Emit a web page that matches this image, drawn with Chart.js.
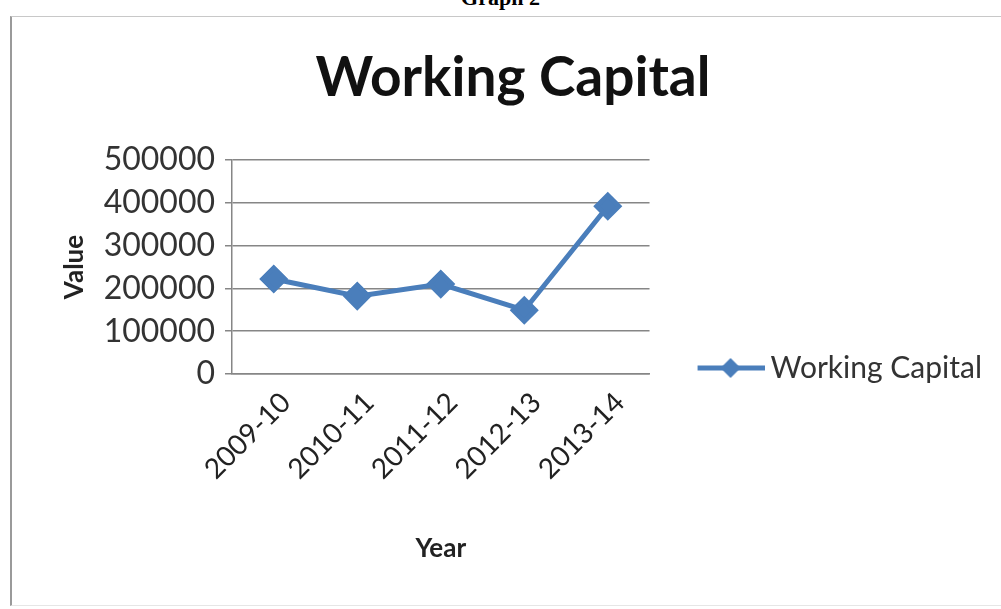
<!DOCTYPE html>
<html>
<head>
<meta charset="utf-8">
<script src="https://cdn.jsdelivr.net/npm/chart.js@4.4.1/dist/chart.umd.min.js"></script>
<style>
  html, body { margin: 0; padding: 0; background: #fff; }
  body { width: 1001px; height: 609px; position: relative; overflow: hidden; }
  #caption { position: absolute; left: 0; width: 1001px; top: -13px; text-align: center;
             font: bold 22px "Liberation Serif", serif; line-height: 22px; color: #000; }
  #frame { position: absolute; left: 10px; top: 16px; width: 1000px; height: 588px;
           border-left: 2px solid #9a9a9a; border-top: 1px solid #c8c8c8; border-bottom: 1px solid #e6e6e6; }
  #wrap { position: absolute; left: 0; top: 0; width: 1001px; height: 609px; }
</style>
</head>
<body>
<div id="caption">Graph 2</div>
<div id="frame"></div>
<div id="wrap"><canvas id="wc"></canvas></div>
<script>
const years = ['2009-10', '2010-11', '2011-12', '2012-13', '2013-14'];
const workingCapital = [222000, 182000, 210000, 149000, 392000];
const yTicks = [0, 100000, 200000, 300000, 400000, 500000];

const blue = '#4a7ebb';

// legend sample: line with a diamond, drawn once into a small canvas
function legendMarker() {
    const c = document.createElement('canvas');
    c.width = 124;
    c.height = 24;
    const g = c.getContext('2d');
    g.strokeStyle = blue;
    g.lineWidth = 5;
    g.beginPath();
    g.moveTo(57, 12);
    g.lineTo(124, 12);
    g.stroke();
    g.fillStyle = blue;
    g.beginPath();
    g.moveTo(90, 2);
    g.lineTo(100, 12);
    g.lineTo(90, 22);
    g.lineTo(80, 12);
    g.closePath();
    g.fill();
    return c;
}
const marker = legendMarker();

// the legend sits a little below the bottom-aligned spot
const legendNudge = {
    id: 'legendNudge',
    afterLayout(chart) {
        chart.legend.top += 9;
        chart.legend.bottom += 9;
    }
};

Chart.defaults.font.family = 'Lato';
Chart.defaults.color = '#333';

new Chart(document.getElementById('wc'), {
    type: 'line',
    data: {
        labels: years,
        datasets: [{
            label: 'Working Capital',
            data: workingCapital,
            borderColor: blue,
            backgroundColor: blue,
            borderWidth: 5,
            pointStyle: 'rectRot',
            pointRadius: 11,
            pointHoverRadius: 11,
            pointBorderColor: blue,
            tension: 0
        }]
    },
    plugins: [legendNudge],
    options: {
        responsive: true,
        maintainAspectRatio: false,
        animation: false,
        layout: { padding: { left: 34, right: 9, top: 0, bottom: 35 } },
        plugins: {
            title: {
                display: true,
                text: 'Working Capital',
                color: '#111',
                font: { size: 55, weight: 'bold' },
                padding: { top: 45, bottom: 49 }
            },
            legend: {
                position: 'right',
                align: 'end',
                fullSize: false,
                maxWidth: 420,
                labels: {
                    usePointStyle: true,
                    pointStyleWidth: 106,
                    padding: 0,
                    color: '#333',
                    font: { size: 30 },
                    generateLabels(chart) {
                        const items = Chart.defaults.plugins.legend.labels.generateLabels(chart);
                        items.forEach(i => { i.pointStyle = marker; });
                        return items;
                    }
                }
            },
            tooltip: { enabled: false }
        },
        scales: {
            x: {
                offset: true,
                grid: { display: false, drawTicks: false },
                border: { display: true, color: '#868686', width: 1.5 },
                ticks: {
                    minRotation: 45,
                    maxRotation: 45,
                    labelOffset: 12,
                    font: { size: 28 },
                    color: '#222',
                    padding: 12
                },
                title: {
                    display: true,
                    text: 'Year',
                    color: '#222',
                    font: { size: 26, weight: 'bold' },
                    padding: { top: 0, bottom: 10 }
                },
                afterFit(s) { s.height = 200; }
            },
            y: {
                min: yTicks[0],
                max: yTicks[yTicks.length - 1],
                afterBuildTicks(s) { s.ticks = yTicks.map(v => ({ value: v })); },
                ticks: {
                    font: { size: 32 },
                    padding: 10,
                    color: '#333',
                    callback: v => String(v)
                },
                grid: { color: '#868686', lineWidth: 1.5, tickLength: 7 },
                border: { display: true, color: '#868686', width: 1.5 },
                title: {
                    display: true,
                    text: 'Value',
                    color: '#222',
                    font: { size: 26, weight: 'bold' },
                    padding: { top: 25, bottom: 0 }
                },
                afterFit(s) { s.width = 198; }
            }
        }
    }
});
</script>
</body>
</html>
